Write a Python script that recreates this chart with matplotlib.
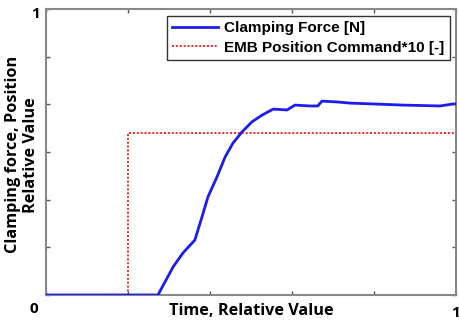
import matplotlib
matplotlib.use("Agg")
import matplotlib.pyplot as plt

# Relative time axis and the two traces
force_t = [0.0, 0.273, 0.310, 0.334, 0.363, 0.376, 0.395, 0.417, 0.437, 0.456,
           0.478, 0.502, 0.527, 0.554, 0.588, 0.607, 0.644, 0.663, 0.673, 0.710,
           0.741, 0.798, 0.871, 0.961, 0.993, 1.0]
force_v = [0.0, 0.0, 0.098, 0.147, 0.192, 0.252, 0.343, 0.413, 0.483, 0.531,
           0.570, 0.605, 0.629, 0.650, 0.647, 0.664, 0.661, 0.661, 0.678, 0.675,
           0.671, 0.668, 0.664, 0.661, 0.668, 0.668]

cmd_t = [0.0, 0.2, 0.2, 1.0]
cmd_v = [0.0, 0.0, 0.567, 0.567]

x_ticks = [0, 0.2, 0.4, 0.6, 0.8, 1.0]
y_ticks = [0, 1/6, 2/6, 3/6, 4/6, 5/6, 1.0]

fig = plt.figure(figsize=(4.6, 3.27), dpi=100)
ax = fig.add_axes([46/460, 1 - 295/327, 410/460, 286/327])

ax.plot(force_t, force_v, color="#1c1cf0", lw=2.0, label="Clamping Force [N]", zorder=3)
ax.plot(cmd_t, cmd_v, color="#ff2020", lw=1.4, ls=(0, (1, 1)),
        label="EMB Position Command*10 [-]", zorder=2)

ax.set_xlim(0, 1)
ax.set_ylim(0, 1)
ax.set_xticks(x_ticks)
ax.set_xticklabels(["", "", "", "", "", "1"])
ax.set_yticks(y_ticks)
ax.set_yticklabels([])
ax.tick_params(direction="in", length=3, width=1, color="#555555",
               labelsize=11, top=True, right=True)
ax.tick_params(axis="x", pad=8)
for lab in ax.get_xticklabels():
    lab.set_fontweight("bold")
    lab.set_family("Open Sans")
for s in ax.spines.values():
    s.set_color("#888888")
    s.set_linewidth(1.5)

# corner value labels
ax.text(-0.03, -0.05, "0", transform=ax.transAxes, ha="center", va="center",
        fontsize=11, fontweight="bold", family="Open Sans")
ax.text(-0.025, 0.983, "1", transform=ax.transAxes, ha="center", va="center",
        fontsize=11, fontweight="bold", family="Open Sans")

ax.set_xlabel("Time, Relative Value", fontsize=11.7, fontweight="bold",
              family="Open Sans")
ax.xaxis.set_label_coords(0.5, -0.028)
ax.set_ylabel("Clamping force, Position\nRelative Value", fontsize=11.7,
              fontweight="bold", family="Open Sans", linespacing=1.1)
ax.yaxis.set_label_coords(-0.018, 0.49)

leg = ax.legend(loc="upper right", bbox_to_anchor=(0.985, 0.975), fancybox=False,
                framealpha=1, edgecolor="#333333", handlelength=3.0,
                prop={"family": "Liberation Sans", "weight": "bold", "size": 11},
                borderpad=0.35, labelspacing=0.35, handletextpad=0.4,
                borderaxespad=0)
leg.get_frame().set_linewidth(1.0)

fig.savefig("out.png", dpi=100)
